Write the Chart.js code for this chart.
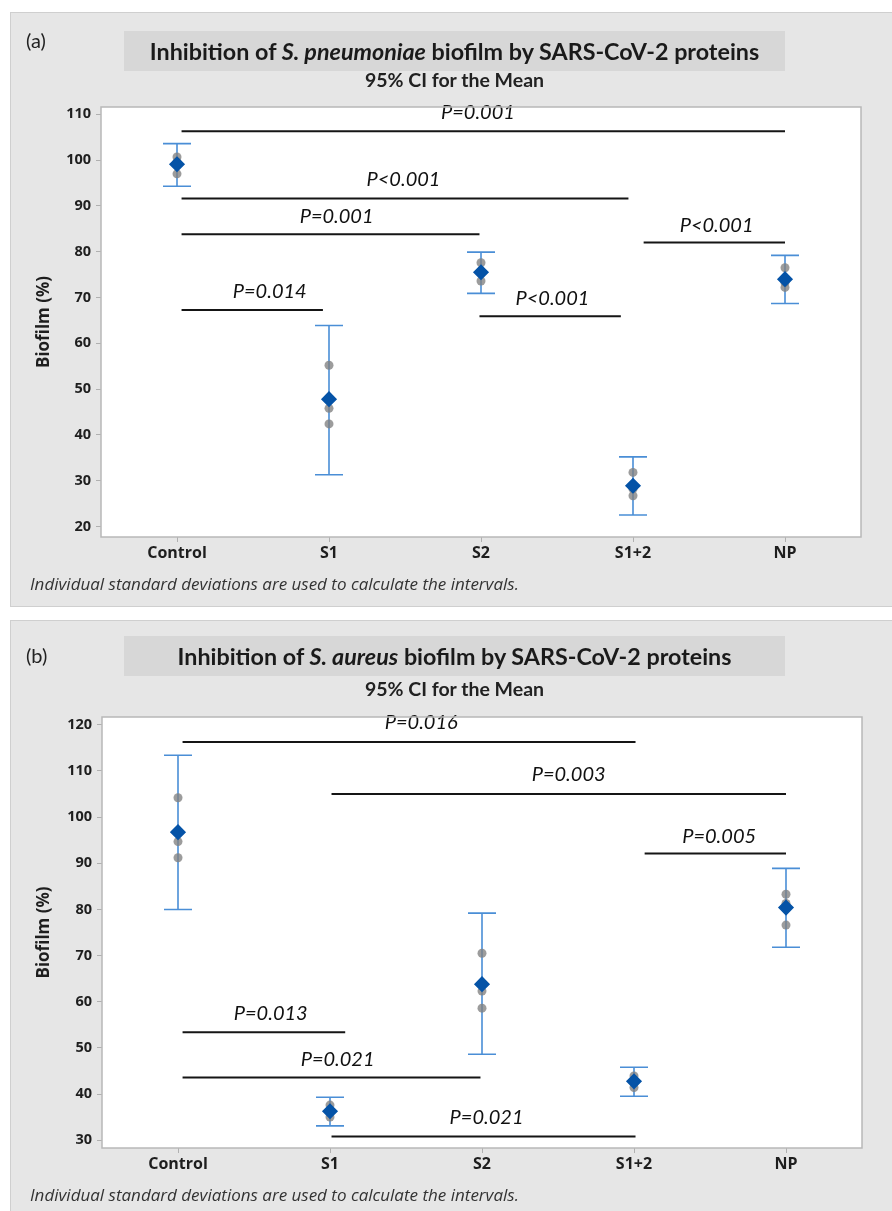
<!DOCTYPE html>
<html><head><meta charset="utf-8">
<script src="https://cdn.jsdelivr.net/npm/chart.js@4.4.1/dist/chart.umd.min.js"></script>
<style>
html,body{margin:0;padding:0;background:#fff;}
body{width:892px;height:1211px;position:relative;overflow:hidden;font-family:Lato,sans-serif;}
.panel{position:absolute;left:10px;width:884px;background:#e6e6e6;box-shadow:inset 0 0 0 1px #cfcfcf;}
.panel canvas{position:absolute;left:0;top:0;}
.tag{position:absolute;left:16px;font:20px Lato;line-height:24px;color:#222;}
.tbox{position:absolute;left:114px;width:661px;height:40px;background:#d7d7d7;}
.title{position:absolute;left:0;right:0;top:0;text-align:center;font:bold 23.3px Lato;color:#1a1a1a;line-height:40px;white-space:nowrap;}
.sub{position:absolute;left:114px;width:661px;text-align:center;font:bold 19.5px Lato;line-height:22px;color:#222;}
.foot{position:absolute;left:20px;font:italic 17px 'Open Sans';line-height:22px;color:#333;white-space:nowrap;}
</style></head>
<body>
<div class="panel" id="pa" style="top:12px;height:595px;">
  <canvas id="ca" width="882" height="595" style="width:882px;height:595px"></canvas>
  <div class="tag" style="top:16px">(a)</div>
  <div class="tbox" style="top:19px"><div class="title">Inhibition of <i>S. pneumoniae</i> biofilm by SARS-CoV-2 proteins</div></div>
  <div class="sub" style="top:57px">95% CI for the Mean</div>
  <div class="foot" style="top:561px">Individual standard deviations are used to calculate the intervals.</div>
</div>
<div class="panel" id="pb" style="top:620px;height:595px;">
  <canvas id="cb" width="882" height="591" style="width:882px;height:591px"></canvas>
  <div class="tag" style="top:23px">(b)</div>
  <div class="tbox" style="top:16px"><div class="title">Inhibition of <i>S. aureus</i> biofilm by SARS-CoV-2 proteins</div></div>
  <div class="sub" style="top:58px">95% CI for the Mean</div>
  <div class="foot" style="top:564px">Individual standard deviations are used to calculate the intervals.</div>
</div>
<script>
// ---------- data ----------
const categories = ['Control', 'S1', 'S2', 'S1+2', 'NP'];

// Panel (a) S. pneumoniae
const yTicksA = [20, 30, 40, 50, 60, 70, 80, 90, 100, 110];
const meanA  = [99.1, 47.8, 75.5, 28.9, 74.0];
const lowerA = [94.3, 31.3, 70.9, 22.5, 68.7];
const upperA = [103.6, 63.9, 79.9, 35.2, 79.2];
const indivA = [[100.7, 99.6, 97.0], [55.2, 45.8, 42.4], [77.6, 75.3, 73.6], [31.8, 28.2, 26.7], [76.5, 73.3, 72.2]];
const sigFromA   = [0.03, 0.03, 0.03, 0.03, 1.99, 3.07];
const sigToA     = [4.0, 2.97, 1.99, 0.96, 2.92, 4.0];
const sigYA      = [106.3, 91.6, 83.8, 67.25, 65.9, 82.0];
const sigTextA   = ['P=0.001', 'P<0.001', 'P=0.001', 'P=0.014', 'P<0.001', 'P<0.001'];
const sigLabelXA = [1.98, 1.49, 1.05, 0.61, 2.47, 3.55];
const sigLabelYA = [110.4, 95.8, 87.6, 71.3, 69.7, 85.8];

// Panel (b) S. aureus
const yTicksB = [30, 40, 50, 60, 70, 80, 90, 100, 110, 120];
const meanB  = [96.75, 36.25, 63.8, 42.75, 80.4];
const lowerB = [80.0, 33.1, 48.6, 39.5, 71.8];
const upperB = [113.4, 39.3, 79.2, 45.8, 88.9];
const indivB = [[104.2, 94.7, 91.2], [37.6, 36.2, 35.0], [70.5, 62.3, 58.6], [43.9, 42.9, 41.4], [83.3, 81.3, 76.6]];
const sigFromB   = [0.03, 1.01, 3.07, 0.03, 0.03, 1.01];
const sigToB     = [3.01, 4.0, 4.0, 1.1, 1.99, 3.01];
const sigYB      = [116.3, 105.0, 92.1, 53.4, 43.6, 30.8];
const sigTextB   = ['P=0.016', 'P=0.003', 'P=0.005', 'P=0.013', 'P=0.021', 'P=0.021'];
const sigLabelXB = [1.60, 2.57, 3.56, 0.61, 1.05, 2.03];
const sigLabelYB = [120.4, 109.3, 95.9, 57.4, 47.5, 34.9];

// ---------- plugin ----------
const panelPlugin = {
  id: 'panelPlugin',
  beforeDraw(chart) {
    const { ctx, chartArea: a } = chart;
    ctx.save();
    ctx.fillStyle = '#ffffff';
    ctx.fillRect(a.left, a.top, a.right - a.left, a.bottom - a.top);
    ctx.restore();
  },
  beforeDatasetsDraw(chart, args, o) {
    const { ctx } = chart; const xs = chart.scales.x, ys = chart.scales.y;
    ctx.save();
    ctx.strokeStyle = o.ciColor; ctx.lineWidth = 1.6;
    o.lower.forEach((lo, i) => {
      const x = xs.getPixelForValue(i);
      const y0 = ys.getPixelForValue(lo), y1 = ys.getPixelForValue(o.upper[i]);
      ctx.beginPath();
      ctx.moveTo(x, y0); ctx.lineTo(x, y1);
      ctx.moveTo(x - o.cap, y0); ctx.lineTo(x + o.cap, y0);
      ctx.moveTo(x - o.cap, y1); ctx.lineTo(x + o.cap, y1);
      ctx.stroke();
    });
    ctx.restore();
  },
  afterDatasetsDraw(chart, args, o) {
    const { ctx } = chart; const xs = chart.scales.x, ys = chart.scales.y;
    ctx.save();
    ctx.fillStyle = '#111';
    ctx.font = 'italic 20px Lato';
    ctx.textAlign = 'center'; ctx.textBaseline = 'middle';
    o.text.forEach((t, i) => {
      ctx.fillText(t, xs.getPixelForValue(o.lx[i]), ys.getPixelForValue(o.ly[i]));
    });
    ctx.restore();
  },
  afterDraw(chart) {
    const { ctx, chartArea: a } = chart;
    ctx.save();
    ctx.strokeStyle = '#b8b8b8'; ctx.lineWidth = 1.5;
    ctx.strokeRect(a.left, a.top, a.right - a.left, a.bottom - a.top);
    ctx.restore();
  }
};

function build(canvasId, mean, lower, upper, indiv, yTicks, yMin, yMax,
               sFrom, sTo, sY, sText, sLX, sLY, axisW, axisH, padTop, padRight) {
  const datasets = [];
  sFrom.forEach((f, i) => {
    datasets.push({
      data: [{ x: f, y: sY[i] }, { x: sTo[i], y: sY[i] }],
      showLine: true, borderColor: '#151515', borderWidth: 2,
      pointRadius: 0, order: 3
    });
  });
  const pts = [];
  indiv.forEach((arr, i) => arr.forEach(v => pts.push({ x: i, y: v })));
  datasets.push({
    data: pts, pointRadius: 4.5, pointBackgroundColor: 'rgba(128,128,128,0.78)',
    pointBorderWidth: 0, order: 2
  });
  datasets.push({
    data: mean.map((v, i) => ({ x: i, y: v })), pointStyle: 'rectRot', pointRadius: 7,
    pointBackgroundColor: '#0553a7', pointBorderColor: '#0553a7', pointBorderWidth: 1.5, order: 1
  });

  return new Chart(document.getElementById(canvasId), {
    type: 'scatter',
    data: { datasets },
    plugins: [panelPlugin],
    options: {
      responsive: false, animation: false, devicePixelRatio: 1,
      layout: { padding: { top: padTop, right: padRight, left: 0, bottom: 0 } },
      plugins: {
        legend: { display: false }, tooltip: { enabled: false },
        panelPlugin: { lower, upper, cap: 14, ciColor: '#4a8ed6', text: sText, lx: sLX, ly: sLY }
      },
      scales: {
        x: {
          type: 'linear', min: -0.5, max: 4.5,
          afterBuildTicks: s => { s.ticks = categories.map((c, i) => ({ value: i })); },
          afterFit: s => { s.height = axisH; },
          border: { display: false },
          grid: { drawOnChartArea: false, drawTicks: true, tickLength: 5, color: '#b0b0b0' },
          ticks: { callback: v => categories[v], maxRotation: 0, autoSkip: false, padding: 2,
                   color: '#1e1e1e', font: { family: 'Open Sans', size: 16, weight: 'bold' } }
        },
        y: {
          min: yMin, max: yMax,
          afterBuildTicks: s => { s.ticks = yTicks.map(v => ({ value: v })); },
          afterFit: s => { s.width = axisW; },
          border: { display: false },
          grid: { drawOnChartArea: false, drawTicks: true, tickLength: 5, color: '#b0b0b0' },
          ticks: { padding: 5, color: '#1e1e1e', font: { family: 'Open Sans', size: 14.5, weight: 'bold' } },
          title: { display: true, text: 'Biofilm (%)', color: '#1e1e1e', padding: { top: 24, bottom: 0 },
                   font: { family: 'Open Sans', size: 17, weight: 'bold' } }
        }
      }
    }
  });
}

build('ca', meanA, lowerA, upperA, indivA, yTicksA, 17.7, 111.6,
      sigFromA, sigToA, sigYA, sigTextA, sigLabelXA, sigLabelYA, 91, 70, 95, 31);
build('cb', meanB, lowerB, upperB, indivB, yTicksB, 28.3, 121.7,
      sigFromB, sigToB, sigYB, sigTextB, sigLabelXB, sigLabelYB, 92, 63, 97, 30);
</script>
</body></html>
